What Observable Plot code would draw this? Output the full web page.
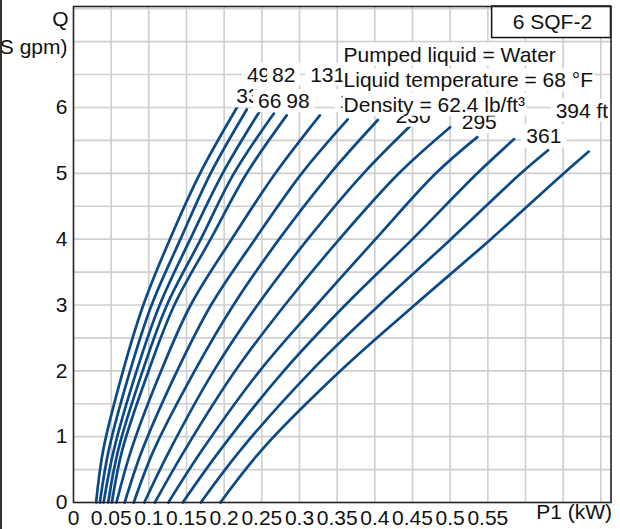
<!DOCTYPE html>
<html><head><meta charset="utf-8">
<script src="https://cdn.jsdelivr.net/npm/d3@7"></script>
<script src="https://cdn.jsdelivr.net/npm/@observablehq/plot@0.6"></script>
<style>
html,body{margin:0;padding:0;background:#fff;}
#chart{position:relative;width:620px;height:529px;overflow:hidden;}
#chart::before{content:"";position:absolute;left:0;top:0;width:2px;height:529px;background:#333;z-index:2;}
#chart svg{display:block;}
</style></head><body><div id="chart"></div>
<script>
// ---- data ----
const heads = [33, 49, 66, 82, 98, 131, 164, 197, 230, 262, 295, 328, 361, 394];
const flowLevels = [0, 0.8, 2, 3, 4, 5];           // Q (US gpm) where P1 was read
const p1AtQ0   = [0.030,0.035,0.040,0.046,0.051,0.057,0.068,0.080,0.094,0.108,0.126,0.145,0.169,0.195];
const p1AtQ08  = [0.0395,0.0469,0.0536,0.0594,0.0648,0.0767,0.0914,0.1068,0.1280,0.1480,0.1710,0.1950,0.2220,0.2500];
const p1AtQ2   = [0.0658,0.0751,0.0838,0.0918,0.0997,0.1164,0.1376,0.1609,0.1862,0.2148,0.2473,0.2793,0.3158,0.3544];
const p1AtQ3   = [0.0927,0.1037,0.1144,0.1241,0.1339,0.1556,0.1826,0.2124,0.2443,0.2806,0.3227,0.3608,0.4060,0.4530];
const p1AtQ4   = [0.128,0.142,0.155,0.169,0.182,0.210,0.241,0.273,0.311,0.353,0.401,0.450,0.501,0.554];
const p1AtQ5   = [0.168,0.182,0.198,0.213,0.230,0.268,0.303,0.341,0.385,0.432,0.481,0.536,0.594,0.651];
const endQ     = [6.00,5.97,5.94,5.91,5.88,5.88,5.82,5.81,5.73,5.70,5.55,5.52,5.35,5.33];
const endP1    = [0.217,0.230,0.247,0.266,0.283,0.327,0.364,0.404,0.448,0.500,0.536,0.585,0.630,0.684];

const headLabels = ["33","49","66","82","98","131","164","197","230","262","295","328","361","394 ft"];
const labelP1 = [0.2315,0.2457,0.2604,0.2790,0.2980,0.3374,0.3765,0.4122,0.4508,0.5000,0.5386,0.6243,0.6243,0.6749];
const labelQ  = [6.166,6.497,6.091,6.497,6.091,6.497,6.091,6.050,5.870,6.050,5.780,5.558,5.558,5.950];

const infoLines = ["Pumped liquid = Water", "Liquid temperature = 68 °F", "Density = 62.4 lb/ft³"];
const infoQ = [6.80, 6.406, 6.037];
const infoP1 = 0.3585;
const modelName = "6 SQF-2";

const xTickValues = [0,0.05,0.1,0.15,0.2,0.25,0.3,0.35,0.4,0.45,0.5,0.55];
const xGridValues = [0.05,0.1,0.15,0.2,0.25,0.3,0.35,0.4,0.45,0.5,0.55,0.6,0.65,0.7];
const yTickValues = [0,1,2,3,4,5,6];
const yGridValues = [0.5,1,1.5,2,2.5,3,3.5,4,4.5,5,5.5,6,6.5,7,7.5];

// ---- build tables ----
const cols = [p1AtQ0, p1AtQ08, p1AtQ2, p1AtQ3, p1AtQ4, p1AtQ5];
const rows = [];
heads.forEach((h, i) => {
  flowLevels.forEach((q, j) => rows.push({head: h, Q: q, P: cols[j][i]}));
  rows.push({head: h, Q: endQ[i], P: endP1[i]});
});
const labels = headLabels.map((t, i) => ({t, P: labelP1[i], Q: labelQ[i]}));
const info = infoLines.map((t, i) => ({t, P: infoP1, Q: infoQ[i]}));

const FONT = "'Liberation Sans', Arial, Helvetica, sans-serif";
const FS = 21;
const fmt = v => String(+v.toFixed(2));

const chart = Plot.plot({
  width: 620, height: 529,
  marginLeft: 73, marginRight: 9.5, marginTop: 6, marginBottom: 27,
  style: {fontFamily: FONT, fontSize: FS + "px", background: "white", color: "#111", overflow: "visible"},
  x: {domain: [0, 0.7135]},
  y: {domain: [0, 7.534]},
  marks: [
    Plot.gridX(xGridValues, {stroke: "#cfcfcf", strokeOpacity: 1, strokeWidth: 1.6}),
    Plot.gridY(yGridValues, {stroke: "#cfcfcf", strokeOpacity: 1, strokeWidth: 1.6}),
    Plot.line(rows, {x: "P", y: "Q", z: "head", stroke: "#0b4a86", strokeWidth: 2.7, curve: "catmull-rom"}),
    Plot.text(labels, {x: "P", y: "Q", text: "t", fill: "#111", fontSize: FS}),
    Plot.text(info, {x: "P", y: "Q", text: "t", fill: "#111", fontSize: FS, textAnchor: "start"}),
    Plot.rect([modelName], {x1: 0.5557, x2: 0.7135, y1: 7.055, y2: 7.534, fill: "white", stroke: "#111", strokeWidth: 1.5}),
    Plot.text([modelName], {x: 0.6357, y: 7.287, text: d => d, fill: "#111", fontSize: FS}),
    Plot.axisY(yTickValues, {tickSize: 0, tickPadding: 6, fontSize: FS, label: null, tickFormat: d => String(d), fill: "#111"}),
    Plot.axisX(xTickValues, {tickSize: 0, tickPadding: 8, fontSize: FS, label: null, tickFormat: fmt, fill: "#111"}),
    Plot.text(["Q"], {frameAnchor: "left", y: 7.343, text: d => d, dx: -5, textAnchor: "end", fontSize: FS, fill: "#111"}),
    Plot.text(["(US gpm)"], {frameAnchor: "left", y: 6.915, text: d => d, dx: -6, textAnchor: "end", fontSize: FS, fill: "#111"}),
    Plot.text(["P1 (kW)"], {frameAnchor: "bottom-right", text: d => d, dy: 16, dx: 1, textAnchor: "end", fontSize: FS, fill: "#111"}),
    Plot.frame({stroke: "#222", strokeWidth: 1.6})
  ]
});
document.getElementById("chart").append(chart);

// white boxes behind the labels (later labels cover earlier ones)
function addBoxes(group, padX, padY) {
  if (!group) return;
  group.querySelectorAll("text").forEach(t => {
    const b = t.getBBox();
    const r = document.createElementNS("http://www.w3.org/2000/svg", "rect");
    r.setAttribute("x", b.x - padX);
    r.setAttribute("y", b.y - padY);
    r.setAttribute("width", b.width + 2 * padX);
    r.setAttribute("height", b.height + 2 * padY);
    r.setAttribute("fill", "white");
    r.setAttribute("stroke", "none");
    const tr = t.getAttribute("transform");
    if (tr) r.setAttribute("transform", tr);
    t.parentNode.insertBefore(r, t);
  });
}
const textGroups = chart.querySelectorAll('g[aria-label="text"]');
addBoxes(textGroups[0], 5, 0);   // head labels
addBoxes(textGroups[1], 1, 0);   // pumped-liquid info lines
</script>
</body></html>
